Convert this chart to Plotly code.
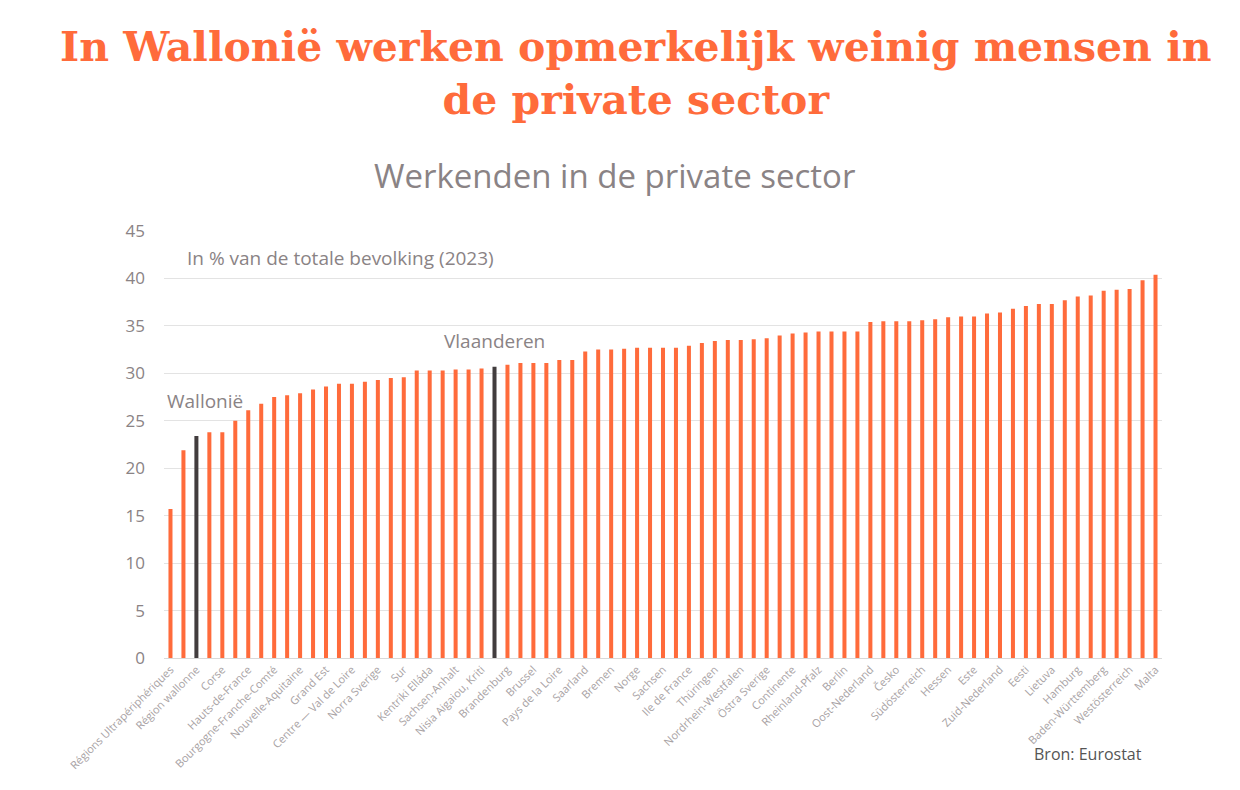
import plotly.graph_objects as go

# Every other bar carries a visible label (odd-numbered bars, 1-based)
shown_labels = [
    "Régions Ultrapériphériques", "Région wallonne", "Corse", "Hauts-de-France",
    "Bourgogne-Franche-Comté", "Nouvelle-Aquitaine", "Grand Est", "Centre — Val de Loire",
    "Norra Sverige", "Sur", "Kentriki Elláda", "Sachsen-Anhalt", "Nisia Aigaiou, Kriti",
    "Brandenburg", "Brussel", "Pays de la Loire", "Saarland", "Bremen", "Norge", "Sachsen",
    "Ile de France", "Thüringen", "Nordrhein-Westfalen", "Östra Sverige", "Continente",
    "Rheinland-Pfalz", "Berlin", "Oost-Nederland", "Česko", "Südösterreich", "Hessen",
    "Este", "Zuid-Nederland", "Eesti", "Lietuva", "Hamburg", "Baden-Württemberg",
    "Westösterreich", "Malta",
]

values = [
    15.7, 21.9, 23.4, 23.8, 23.8, 25.0, 26.1, 26.8, 27.5, 27.7,
    27.9, 28.3, 28.6, 28.9, 28.9, 29.1, 29.3, 29.5, 29.6, 30.3,
    30.3, 30.3, 30.4, 30.4, 30.5, 30.7, 30.9, 31.1, 31.1, 31.1,
    31.4, 31.4, 32.3, 32.5, 32.5, 32.6, 32.7, 32.7, 32.7, 32.7,
    32.9, 33.2, 33.4, 33.5, 33.5, 33.6, 33.7, 34.0, 34.2, 34.3,
    34.4, 34.4, 34.4, 34.4, 35.4, 35.5, 35.5, 35.5, 35.6, 35.7,
    35.9, 36.0, 36.0, 36.3, 36.4, 36.8, 37.1, 37.3, 37.3, 37.7,
    38.1, 38.2, 38.7, 38.8, 38.9, 39.8, 40.4,
]

highlight = {2: "Wallonië", 25: "Vlaanderen"}  # 0-based bar index -> annotation

y_ticks = [0, 5, 10, 15, 20, 25, 30, 35, 40, 45]

ORANGE = "#FF6B3B"
DARK = "#423D3E"
GREY = "#8A8385"

positions = list(range(len(values)))
colors = [DARK if i in highlight else ORANGE for i in positions]

fig = go.Figure(
    go.Bar(x=positions, y=values, marker=dict(color=colors, line=dict(width=0)),
           hovertemplate="%{y:.1f}%<extra></extra>")
)

annotations = [
    dict(text="In Wallonië werken opmerkelijk weinig mensen in<br>de private sector",
         xref="paper", yref="paper", x=0.473, y=1.37, xanchor="center", yanchor="middle",
         showarrow=False, align="center",
         font=dict(family="DejaVu Serif", size=41, color=ORANGE, weight="bold")),
    dict(text="Werkenden in de private sector", xref="paper", yref="paper",
         x=0.451, y=1.129, xanchor="center", yanchor="middle", showarrow=False,
         font=dict(family="Open Sans", size=33, color=GREY)),
    dict(text="In % van de totale bevolking (2023)", xref="paper", yref="paper",
         x=0.021, y=0.937, xanchor="left", yanchor="middle", showarrow=False,
         font=dict(family="Open Sans", size=19, color=GREY)),
    dict(text="Bron: Eurostat", xref="paper", yref="paper", x=0.982, y=-0.225,
         xanchor="right", yanchor="middle", showarrow=False,
         font=dict(family="Open Sans", size=16, color="#555555")),
    dict(text=highlight[2], xref="paper", yref="paper", x=0.041, y=0.602,
         xanchor="center", yanchor="middle", showarrow=False,
         font=dict(family="Open Sans", size=19, color=GREY)),
    dict(text=highlight[25], xref="paper", yref="paper", x=0.331, y=0.742,
         xanchor="center", yanchor="middle", showarrow=False,
         font=dict(family="Open Sans", size=19, color=GREY)),
]

# The page body has an 8px margin, so margins are shifted to put the plot
# area at the reference position (x 164-1162, y 231-658 in the window).
fig.update_layout(
    width=1240, height=790,
    margin=dict(l=156, r=86, t=223, b=140),
    paper_bgcolor="white", plot_bgcolor="white",
    bargap=0.69,
    showlegend=False,
    annotations=annotations,
    xaxis=dict(
        range=[-0.5, len(values) - 0.5],
        tickmode="array", tickvals=positions[::2], ticktext=shown_labels,
        tickangle=-45, tickfont=dict(family="Open Sans", size=11, color="#A8A2A4"),
        showgrid=False, zeroline=False, showline=True, linecolor="#D9D9D9",
        ticks="",
    ),
    yaxis=dict(
        range=[0, 45], tickmode="array", tickvals=y_ticks,
        tickfont=dict(family="Open Sans", size=17, color=GREY),
        gridcolor="#E3E3E3", gridwidth=1, zeroline=False, showline=False,
        ticklabelstandoff=18,
    ),
)

fig.write_html("out.html")
